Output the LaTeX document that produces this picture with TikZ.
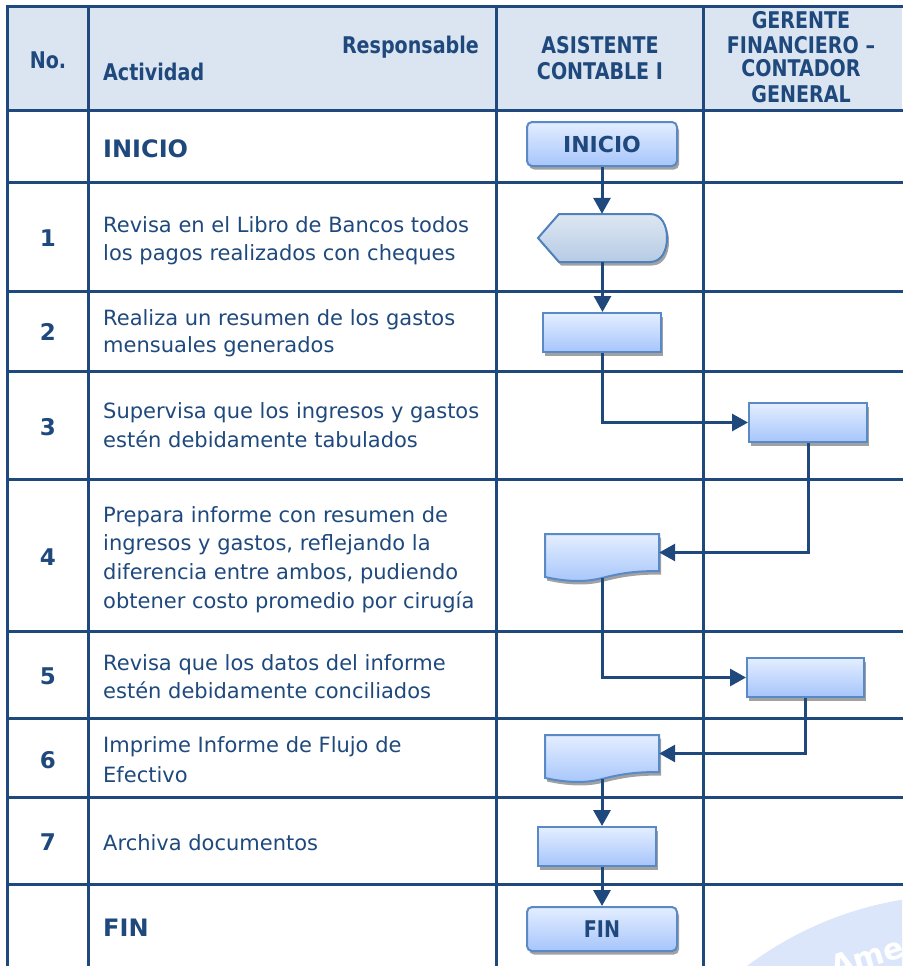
\documentclass[tikz,border=0pt]{standalone}
\usepackage{fontspec}
\setmainfont{DejaVu Sans}
\newfontfamily\hdrfont{DejaVu Sans}[FakeStretch=0.83]
\usetikzlibrary{arrows.meta,shadows,calc}
\definecolor{navy}{HTML}{1F497D}
\definecolor{hdrfill}{HTML}{DBE5F1}
\definecolor{shpborder}{HTML}{5A8AC6}
\definecolor{hexborder}{HTML}{4F81BD}
\definecolor{shptop}{HTML}{E4EEFF}
\definecolor{shpbot}{HTML}{A6C5FB}
\definecolor{hextop}{HTML}{DDE7F2}
\definecolor{hexbot}{HTML}{B6CBE4}
\definecolor{wmark}{HTML}{DCE6FB}
\begin{document}
\begin{tikzpicture}[x=1pt,y=-1pt,
  grid/.style={navy, line width=3pt, line cap=rect},
  hdr/.style={font=\hdrfont\bfseries\fontsize{23}{25}\selectfont, text=navy, inner sep=0pt},
  body/.style={font=\fontsize{21}{28}\selectfont, text=navy, inner sep=0pt, anchor=base west},
  num/.style={font=\bfseries\fontsize{23}{28}\selectfont, text=navy, inner sep=0pt, anchor=base},
  bigb/.style={font=\bfseries\fontsize{24}{28}\selectfont, text=navy, inner sep=0pt, anchor=base west},
  shp/.style={draw=shpborder, line width=2pt, top color=shptop, bottom color=shpbot,
    drop shadow={shadow xshift=2pt, shadow yshift=-3.5pt, fill=black!37, opacity=1}},
  procbox/.style={shp, rectangle, inner sep=0pt},
  termbox/.style={shp, rectangle, rounded corners=5pt, inner sep=0pt},
  ghost/.style={rectangle, inner sep=0pt, draw=none},
  flow/.style={navy, line width=3pt, -{Triangle[length=16pt,width=17pt]}},
  wm/.style={font=\bfseries\fontsize{30}{30}\selectfont, text=white, inner sep=0pt},
]
\useasboundingbox (0,0) rectangle (902,966);

% watermark
\begin{scope}
  \clip (0,0) rectangle (902,966);
  \fill[wmark, even odd rule] (960,1250) circle (355pt) (960,1250) circle (255pt);
  \node[wm, rotate=17, anchor=base west] (wtext) at (834,978) {Ame};
\end{scope}

% header background
\fill[hdrfill] (7,7) rectangle (902,110);

% grid
\foreach \yy in {7,110,182,291,371,479,631,718,797,884}
  \draw[grid] (7,\yy) -- (905,\yy);
\foreach \xx in {7,88,496,703}
  \draw[grid] (\xx,7) -- (\xx,970);

% header texts
\node[hdr, anchor=base] (hno) at (48,68) {No.};
\node[hdr, anchor=base west] (hact) at (103,81) {Actividad};
\node[hdr, anchor=base east] (hresp) at (479,53) {Responsable};
\node[hdr, anchor=base] (ha1) at (600,54) {ASISTENTE};
\node[hdr, anchor=base] (ha2) at (600,80) {CONTABLE I};
\node[hdr, anchor=base] (hg1) at (801,29) {GERENTE};
\node[hdr, anchor=base] (hg2) at (801,53) {FINANCIERO –};
\node[hdr, anchor=base] (hg3) at (801,77) {CONTADOR};
\node[hdr, anchor=base] (hg4) at (801,102) {GENERAL};

% activity column
\node[bigb] (tini) at (103,157) {INICIO};
\node[num] (n1) at (48,246) {1};
\node[body] (t1a) at (103,232) {Revisa en el Libro de Bancos todos};
\node[body] (t1b) at (103,260) {los pagos realizados con cheques};
\node[num] (n2) at (48,340) {2};
\node[body] (t2a) at (103,325) {Realiza un resumen de los gastos};
\node[body] (t2b) at (103,352) {mensuales generados};
\node[num] (n3) at (48,435) {3};
\node[body] (t3a) at (103,418) {Supervisa que los ingresos y gastos};
\node[body] (t3b) at (103,447) {estén debidamente tabulados};
\node[num] (n4) at (48,565) {4};
\node[body] (t4a) at (103,522) {Prepara informe con resumen de};
\node[body] (t4b) at (103,550) {ingresos y gastos, reflejando la};
\node[body] (t4c) at (103,579) {diferencia entre ambos, pudiendo};
\node[body] (t4d) at (103,608) {obtener costo promedio por cirugía};
\node[num] (n5) at (48,684) {5};
\node[body] (t5a) at (103,670) {Revisa que los datos del informe};
\node[body] (t5b) at (103,698) {estén debidamente conciliados};
\node[num] (n6) at (48,768) {6};
\node[body] (t6a) at (103,752) {Imprime Informe de Flujo de};
\node[body] (t6b) at (103,782) {Efectivo};
\node[num] (n7) at (48,850) {7};
\node[body] (t7a) at (103,850) {Archiva documentos};
\node[bigb] (tfin) at (103,936) {FIN};

% flow shapes
\node[termbox, minimum width=150pt, minimum height=44pt, text=navy,
  font=\bfseries\fontsize{22}{24}\selectfont] (ini) at (602,144) {INICIO};

\node[ghost, minimum width=129pt, minimum height=48pt] (dsp) at (602.5,238) {};
\path[shp, draw=hexborder, top color=hextop, bottom color=hexbot]
  (538,238) -- (559,214) -- (650,214) .. controls (662,214) and (667,226) .. (667,238)
  .. controls (667,250) and (662,262) .. (650,262) -- (559,262) -- cycle;

\node[procbox, minimum width=118pt, minimum height=39pt] (r2) at (602,332.5) {};
\node[procbox, minimum width=118pt, minimum height=39pt] (r3) at (808,422.5) {};

\node[ghost, minimum width=114pt, minimum height=37pt] (d4) at (602,552.5) {};
\path[shp] (545,534) -- (659,534) -- (659,571)
  .. controls (636,571) and (621,573) .. (602,578)
  .. controls (583,583) and (563,581) .. (545,577) -- cycle;
\coordinate (d4b) at (602,578);

\node[procbox, minimum width=117pt, minimum height=39pt] (r5) at (805.5,677.5) {};

\node[ghost, minimum width=114pt, minimum height=37pt] (d6) at (602,753.5) {};
\path[shp] (545,735) -- (659,735) -- (659,772)
  .. controls (636,772) and (621,774) .. (602,779)
  .. controls (583,784) and (563,782) .. (545,778) -- cycle;
\coordinate (d6b) at (602,779);

\node[procbox, minimum width=118pt, minimum height=39pt] (r7) at (597,846.5) {};

\node[termbox, minimum width=150pt, minimum height=44pt, text=navy,
  font=\hdrfont\bfseries\fontsize{23}{24}\selectfont] (fin) at (602,929) {FIN};

% connectors
\draw[flow] (ini.south) -- (ini.south |- dsp.north);
\draw[flow] (dsp.south) -- (dsp.south |- r2.north);
\draw[flow] (r2.south) |- (r3.west);
\draw[flow] (r3.south) |- (d4.east);
\draw[flow] (d4b) |- (r5.west);
\draw[flow] (r5.south) |- (d6.east);
\draw[flow] (d6b) -- (d6b |- r7.north);
\draw[flow] (d6b |- r7.south) -- (d6b |- fin.north);
\end{tikzpicture}
\end{document}
